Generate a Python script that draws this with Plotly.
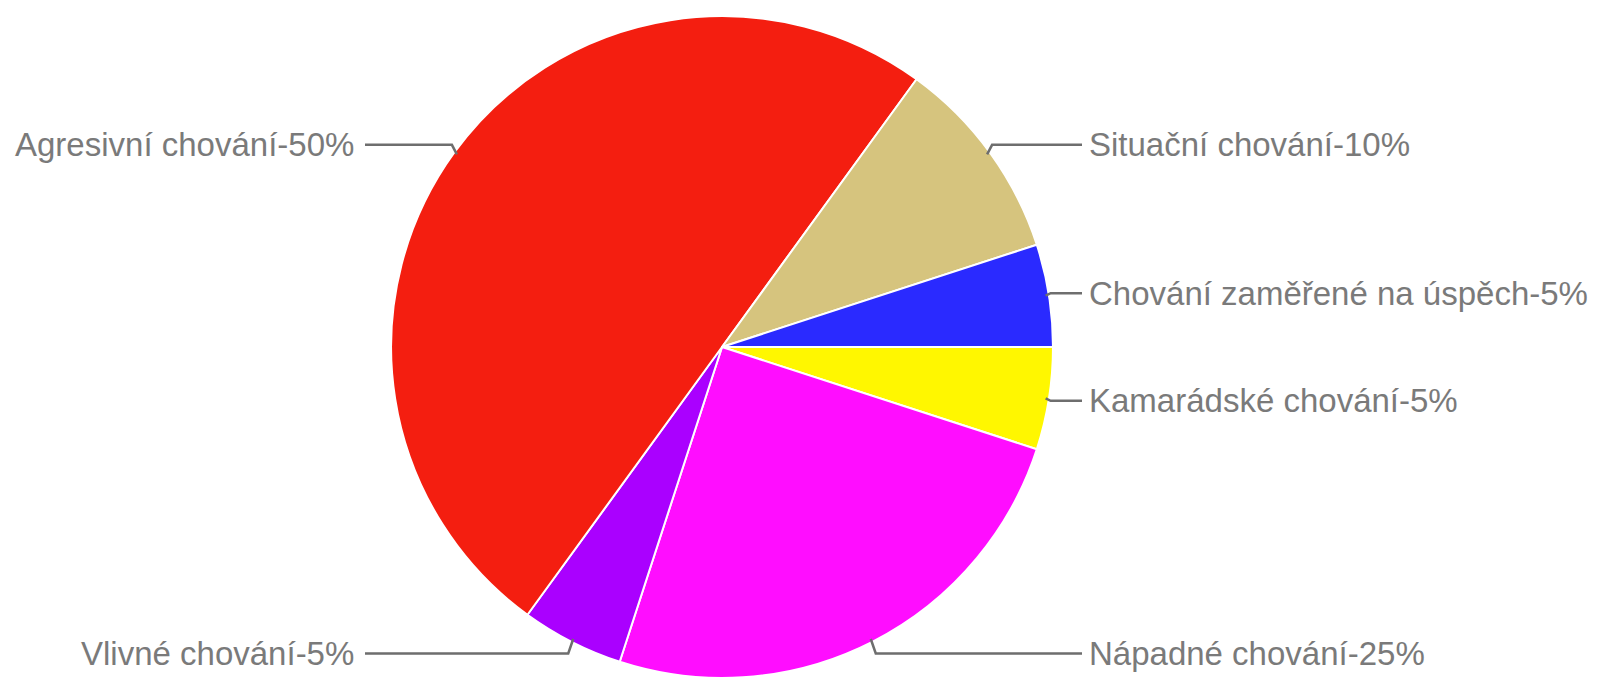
import math
import plotly.graph_objects as go

# Data (clockwise from 3 o'clock)
labels = ["Kamarádské chování", "Nápadné chování", "Vlivné chování",
          "Agresivní chování", "Situační chování", "Chování zaměřené na úspěch"]
values = [5, 25, 5, 50, 10, 5]
colors = ["#fff700", "#ff0dff", "#aa00ff", "#f41e10", "#d6c47e", "#2a2aff"]

# page body has an 8px margin; figure sized to fit the window
OFF = 8
W, H = 1604 - OFF, 682 - OFF
cx, cy, R = 722 - OFF, 347 - OFF, 331
RL = 344
LEFT_TEXT_X, RIGHT_TEXT_X = 356 - OFF, 1087 - OFF
LEFT_LINE_X, RIGHT_LINE_X = 365 - OFF, 1082 - OFF

def px(x):
    return x / W

def py(y):
    return 1 - y / H

fig = go.Figure(go.Pie(
    labels=labels, values=values, sort=False, direction="clockwise", rotation=90,
    marker=dict(colors=colors, line=dict(color="white", width=2)),
    textinfo="none", showlegend=False,
    domain=dict(x=[px(cx - R), px(cx + R)], y=[py(cy + R), py(cy - R)]),
))

total = sum(values)
cum = 0
shapes, annotations = [], []
for lab, v in zip(labels, values):
    mid = -(cum + v / 2) / total * 2 * math.pi
    cum += v
    ax = cx + R * 0.99 * math.cos(mid)
    ay = cy - R * 0.99 * math.sin(mid)
    ly = cy - RL * math.sin(mid)
    right = math.cos(mid) > 0
    bx = ax + (5 if right else -5)
    ex = RIGHT_LINE_X if right else LEFT_LINE_X
    shapes.append(dict(
        type="path", xref="paper", yref="paper",
        path=f"M {px(ax)} {py(ay)} L {px(bx)} {py(ly)} L {px(ex)} {py(ly)}",
        line=dict(color="#6e6e6e", width=2.5),
    ))
    annotations.append(dict(
        text=f"{lab}-{v}%", xref="paper", yref="paper",
        x=px(RIGHT_TEXT_X if right else LEFT_TEXT_X), y=py(ly),
        xanchor="left" if right else "right", yanchor="middle",
        showarrow=False,
        font=dict(family="Liberation Sans, Arial, sans-serif", size=33, color="#7a7a7a"),
    ))

fig.update_layout(
    width=W, height=H, margin=dict(l=0, r=0, t=0, b=0),
    paper_bgcolor="white", plot_bgcolor="white",
    shapes=shapes, annotations=annotations,
)
fig.write_html("out.html")
